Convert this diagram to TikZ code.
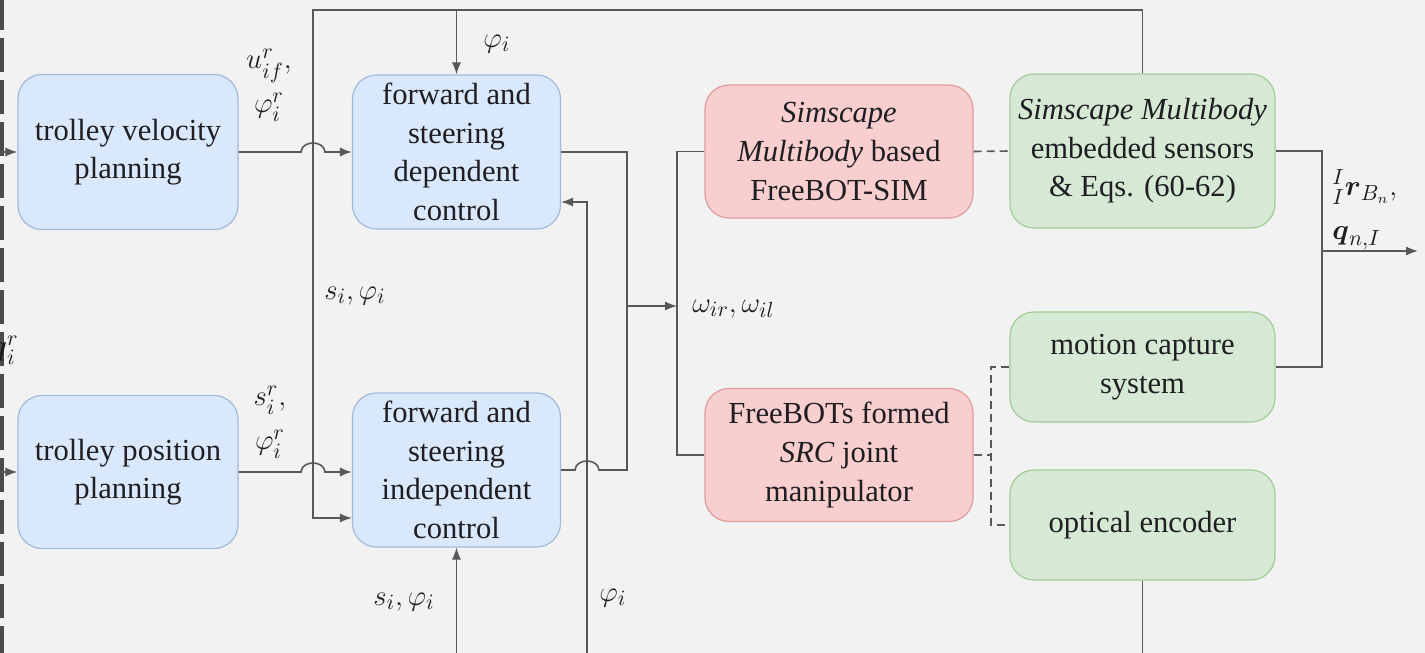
\documentclass[tikz,border=0pt]{standalone}
\usepackage{amsmath}
\usepackage{fontspec}
\setmainfont{Liberation Serif}
\usetikzlibrary{arrows.meta,calc}

\definecolor{bgc}{RGB}{242,242,242}
\definecolor{wire}{RGB}{88,88,88}
\definecolor{bluefill}{RGB}{218,232,251}
\definecolor{bluedraw}{RGB}{160,186,222}
\definecolor{redfill}{RGB}{248,206,206}
\definecolor{reddraw}{RGB}{222,156,156}
\definecolor{greenfill}{RGB}{214,233,212}
\definecolor{greendraw}{RGB}{163,204,150}
\definecolor{txt}{RGB}{30,30,35}

\tikzset{
  block/.style={rounded corners=12pt, line width=0.6pt, align=center,
    inner sep=0pt, text=txt, font=\fontsize{15.3}{19.3}\selectfont},
  bluebox/.style={block, fill=bluefill, draw=bluedraw},
  redbox/.style={block, fill=redfill, draw=reddraw},
  greenbox/.style={block, fill=greenfill, draw=greendraw},
  wireline/.style={draw=wire, line width=0.8pt},
  arr/.style={wireline, -{Latex[length=6pt,width=4.6pt]}},
  dsh/.style={wireline, dash pattern=on 4pt off 2.5pt},
  lbl/.style={text=txt, inner sep=0pt, align=center,
    font=\fontsize{15}{22}\selectfont},
}

\begin{document}
\begin{tikzpicture}[x=0.5pt,y=-0.5pt]
  \useasboundingbox[fill=bgc] (0,0) rectangle (1425,653);

  % dashed frame edge on the left
  \draw[draw=wire!85!black, line width=3pt, dash pattern=on 17pt off 4pt] (1,-4) -- (1,660);

  % planning blocks
  \node[bluebox, minimum width=110pt, minimum height=77.5pt] (vel) at (128,152)
    {trolley velocity\\planning};
  \node[bluebox, minimum width=110pt, minimum height=76.5pt] (pos) at (128,472)
    {trolley position\\planning};

  % controllers
  \node[bluebox, minimum width=104pt, minimum height=77pt] (dep) at (456.5,152)
    {forward and\\steering\\dependent\\control};
  \node[bluebox, minimum width=104pt, minimum height=77pt] (ind) at (456.5,470)
    {forward and\\steering\\independent\\control};

  % plants
  \node[redbox, minimum width=134pt, minimum height=66.5pt] (sim) at (839,151.5)
    {\textit{Simscape}\\\textit{Multibody} based\\FreeBOT-SIM};
  \node[redbox, minimum width=134pt, minimum height=66.5pt] (src) at (839,455)
    {FreeBOTs formed\\\textit{SRC} joint\\manipulator};

  % sensing
  \node[greenbox, minimum width=132.5pt, minimum height=77pt] (sens) at (1142.5,151)
    {\textit{Simscape Multibody}\\embedded sensors\\\& Eqs. (60-62)};
  \node[greenbox, minimum width=132.5pt, minimum height=55pt] (mocap) at (1142.5,367)
    {motion capture\\system};
  \node[greenbox, minimum width=132.5pt, minimum height=55pt] (enc) at (1142.5,525)
    {optical encoder};

  % references entering from the left
  \coordinate (inV) at (-4,152);
  \coordinate (inP) at (-4,472);
  \draw[arr] (inV) -- (vel.west);
  \draw[arr] (inP) -- (pos.west);
  \node[lbl, anchor=east] (qr) at (19,350) {$\boldsymbol{q}_i^r$};

  % planners to controllers, hopping over the feedback line
  \draw[arr] (vel.east) -- (301,152) .. controls (302,140) and (324,140) .. (325,152) -- (dep.west);
  \draw[arr] (pos.east) -- (301,472) .. controls (302,460) and (324,460) .. (325,472) -- (ind.west |- pos.east);
  \node[lbl] (lv) at (269,85) {$u_{if}^r,$\\$\varphi_i^r$};
  \node[lbl] (lp) at (270,422) {$s_i^r,$\\$\varphi_i^r$};

  % feedback along the top
  \coordinate (top1) at (1142.5,10);
  \coordinate (top2) at (313,10);
  \draw[arr] (sens.north) -- (top1) -- (top2) -- (313,518) -- ($(ind.west)+(0,48)$);
  \draw[arr] (456.5,10) -- (dep.north);
  \node[lbl] (lphiT) at (497,44) {$\varphi_i$};
  \node[lbl] (lsphi) at (355,296) {$s_i,\varphi_i$};

  % feedback from below
  \coordinate (bot1) at (456.5,660);
  \coordinate (bot2) at (587,660);
  \coordinate (bot3) at (1142.5,660);
  \draw[arr] (bot1) -- (ind.south);
  \draw[arr] (bot2) -- (587,202) -- ($(dep.east)+(0,50)$);
  \draw[wireline] (enc.south) -- (bot3);
  \node[lbl] (lsb) at (404,602) {$s_i,\varphi_i$};
  \node[lbl] (lpb) at (613,598) {$\varphi_i$};

  % wheel speed commands to the plants
  \draw[wireline] (dep.east) -- (627,152) -- (627,470) -- (599,470)
     .. controls (598,458) and (576,458) .. (575,470) -- (ind.east);
  \coordinate (bus) at (677,306);
  \draw[arr] (627,306) -- (bus);
  \draw[wireline] (sim.west) -- (677,151.5) -- (677,455) -- (src.west);
  \node[lbl, anchor=west] (lw) at (692,309) {$\omega_{ir},\omega_{il}$};

  % measurement associations
  \draw[dsh] (sim.east) -- (sens.west);
  \draw[dsh] (src.east) -- (991,455);
  \draw[dsh] (mocap.west) -- (991,367) -- (991,525) -- (enc.west);

  % measured output
  \draw[wireline] (sens.east) -- (1322,151) -- (1322,367) -- (mocap.east);
  \coordinate (out) at (1418,251);
  \draw[arr] (1322,251) -- (out);
  \node[lbl, align=left, anchor=west] (lout) at (1332,210)
    {${}^{I}_{I}\boldsymbol{r}_{B_n},$\\$\boldsymbol{q}_{n,I}$};
\end{tikzpicture}
\end{document}
